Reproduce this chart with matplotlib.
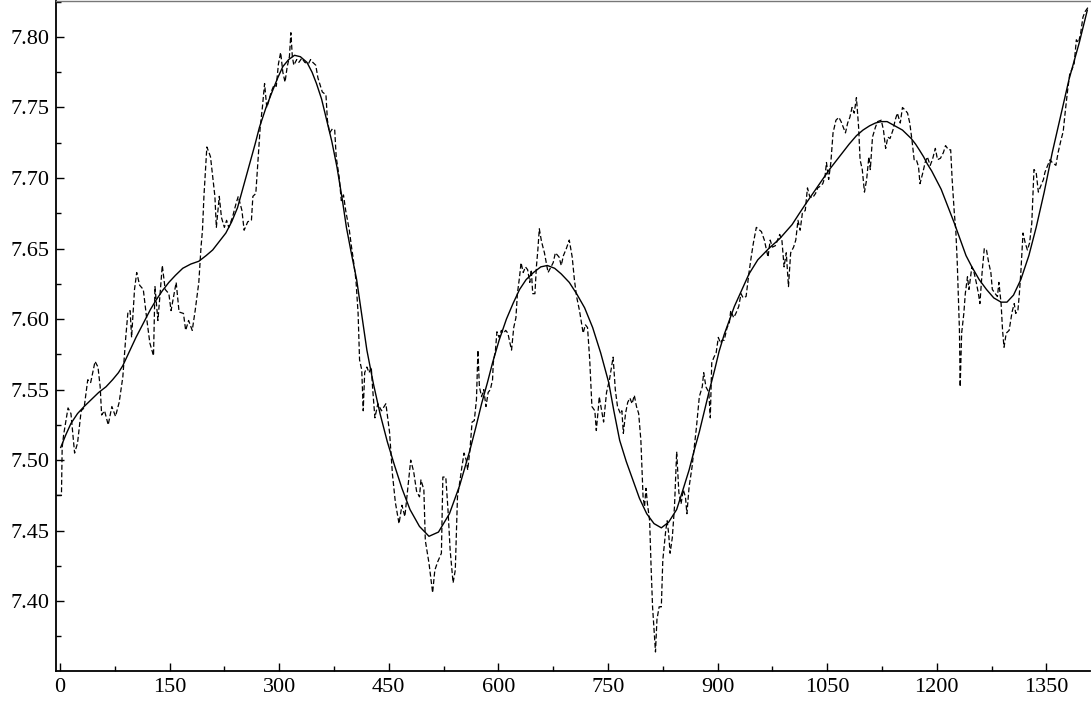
import matplotlib
matplotlib.use("Agg")
import matplotlib.pyplot as plt
from matplotlib.ticker import MultipleLocator, FormatStrFormatter

plt.rcParams['font.family'] = ['Liberation Serif', 'DejaVu Serif']

# raw series (dashed)
raw_x = [-4, 2, 3, 5, 11, 15, 20, 24, 29, 33, 38, 42, 48, 52, 55, 57, 61, 66, 71, 76,
         81, 86, 90, 93, 96, 98, 102, 105, 109, 114, 119, 123, 128, 130, 134, 137, 140, 144, 149, 152,
         159, 163, 169, 172, 176, 181, 185, 190, 193, 195, 197, 201, 204, 206, 209, 212, 214, 218, 221, 225,
         228, 231, 236, 241, 244, 249, 252, 257, 262, 264, 268, 271, 274, 277, 280, 283, 286, 289, 293, 296,
         299, 302, 305, 308, 311, 314, 316, 318, 320, 324, 327, 331, 335, 340, 343, 346, 350, 353, 356, 359,
         364, 366, 369, 373, 376, 378, 382, 385, 388, 391, 396, 399, 401, 405, 408, 410, 413, 415, 417, 420,
         423, 426, 428, 431, 435, 440, 446, 451, 455, 459, 464, 468, 472, 476, 480, 484, 488, 492, 494, 498,
         500, 505, 510, 513, 517, 522, 524, 528, 531, 534, 538, 541, 544, 547, 550, 553, 556, 558, 561, 564,
         567, 570, 572, 574, 577, 580, 583, 586, 589, 592, 593, 596, 598, 601, 604, 607, 610, 613, 615, 618,
         621, 624, 626, 629, 631, 634, 637, 640, 643, 645, 647, 650, 652, 654, 656, 659, 663, 668, 675, 678,
         683, 686, 689, 693, 697, 701, 704, 707, 711, 716, 719, 722, 725, 728, 732, 734, 737, 738, 744, 748,
         752, 757, 760, 763, 767, 769, 771, 774, 777, 780, 783, 786, 789, 792, 795, 798, 800, 802, 804, 807,
         809, 811, 814, 815, 817, 820, 823, 825, 829, 831, 833, 835, 838, 841, 844, 847, 850, 853, 856, 858,
         861, 865, 868, 871, 875, 879, 881, 884, 888, 890, 892, 895, 898, 901, 904, 906, 909, 913, 916, 918,
         922, 925, 929, 932, 935, 939, 943, 946, 949, 953, 960, 964, 969, 972, 975, 979, 985, 988, 991, 994,
         997, 1000, 1004, 1007, 1010, 1013, 1016, 1020, 1023, 1026, 1030, 1034, 1037, 1040, 1044, 1047, 1049, 1052, 1055, 1058,
         1062, 1066, 1069, 1072, 1075, 1078, 1081, 1084, 1087, 1090, 1093, 1095, 1098, 1101, 1104, 1107, 1109, 1112, 1116, 1119,
         1124, 1127, 1130, 1133, 1136, 1140, 1143, 1146, 1150, 1153, 1157, 1160, 1163, 1166, 1169, 1172, 1175, 1177, 1181, 1184,
         1187, 1191, 1194, 1198, 1201, 1205, 1209, 1212, 1216, 1219, 1221, 1224, 1226, 1228, 1231, 1232, 1234, 1237, 1239, 1242,
         1244, 1248, 1251, 1254, 1257, 1259, 1262, 1265, 1268, 1271, 1274, 1276, 1280, 1283, 1285, 1288, 1290, 1292, 1295, 1299,
         1303, 1306, 1308, 1311, 1313, 1315, 1318, 1321, 1324, 1327, 1330, 1333, 1336, 1339, 1342, 1346, 1348, 1351, 1355, 1358,
         1363, 1366, 1370, 1373, 1376, 1379, 1382, 1385, 1388, 1391, 1394, 1397, 1400, 1403, 1407, 1409]
raw_y = [7.475, 7.475, 7.509, 7.518, 7.537, 7.533, 7.505, 7.512, 7.535, 7.537, 7.557, 7.555, 7.570, 7.566, 7.552, 7.532, 7.535, 7.525, 7.538, 7.531,
         7.541, 7.559, 7.587, 7.605, 7.606, 7.587, 7.621, 7.633, 7.624, 7.621, 7.599, 7.583, 7.574, 7.623, 7.599, 7.618, 7.638, 7.621, 7.618, 7.606,
         7.626, 7.605, 7.604, 7.592, 7.599, 7.592, 7.606, 7.626, 7.651, 7.663, 7.687, 7.722, 7.718, 7.715, 7.701, 7.687, 7.665, 7.687, 7.672, 7.665,
         7.670, 7.665, 7.672, 7.682, 7.687, 7.677, 7.663, 7.669, 7.670, 7.687, 7.689, 7.713, 7.736, 7.750, 7.767, 7.750, 7.755, 7.761, 7.766, 7.765,
         7.781, 7.789, 7.775, 7.768, 7.779, 7.786, 7.803, 7.786, 7.780, 7.784, 7.782, 7.785, 7.782, 7.781, 7.784, 7.782, 7.780, 7.771, 7.766, 7.761,
         7.759, 7.741, 7.732, 7.735, 7.734, 7.715, 7.701, 7.684, 7.688, 7.677, 7.663, 7.651, 7.644, 7.628, 7.604, 7.571, 7.564, 7.535, 7.562, 7.566,
         7.562, 7.566, 7.550, 7.530, 7.540, 7.535, 7.540, 7.520, 7.490, 7.470, 7.455, 7.468, 7.460, 7.480, 7.500, 7.492, 7.478, 7.474, 7.486, 7.479,
         7.443, 7.427, 7.406, 7.422, 7.428, 7.434, 7.488, 7.488, 7.465, 7.436, 7.413, 7.422, 7.474, 7.484, 7.495, 7.505, 7.500, 7.493, 7.507, 7.527,
         7.528, 7.543, 7.578, 7.552, 7.545, 7.550, 7.538, 7.548, 7.550, 7.557, 7.569, 7.578, 7.591, 7.587, 7.592, 7.590, 7.592, 7.590, 7.585, 7.578,
         7.594, 7.601, 7.618, 7.630, 7.640, 7.633, 7.637, 7.635, 7.626, 7.635, 7.618, 7.618, 7.637, 7.649, 7.664, 7.655, 7.647, 7.633, 7.640, 7.647,
         7.644, 7.638, 7.645, 7.650, 7.656, 7.644, 7.628, 7.616, 7.606, 7.590, 7.596, 7.594, 7.571, 7.538, 7.535, 7.521, 7.538, 7.545, 7.527, 7.548,
         7.557, 7.573, 7.550, 7.538, 7.533, 7.535, 7.519, 7.533, 7.541, 7.544, 7.540, 7.546, 7.538, 7.533, 7.514, 7.474, 7.467, 7.480, 7.469, 7.457,
         7.424, 7.396, 7.372, 7.364, 7.387, 7.396, 7.396, 7.429, 7.450, 7.457, 7.448, 7.434, 7.445, 7.467, 7.506, 7.477, 7.469, 7.479, 7.474, 7.462,
         7.481, 7.495, 7.509, 7.523, 7.545, 7.552, 7.562, 7.552, 7.548, 7.530, 7.569, 7.573, 7.576, 7.587, 7.583, 7.585, 7.585, 7.594, 7.597, 7.606,
         7.601, 7.604, 7.609, 7.618, 7.615, 7.616, 7.633, 7.644, 7.654, 7.665, 7.662, 7.656, 7.644, 7.656, 7.651, 7.652, 7.660, 7.656, 7.637, 7.647,
         7.623, 7.647, 7.651, 7.656, 7.670, 7.663, 7.675, 7.677, 7.693, 7.687, 7.686, 7.689, 7.693, 7.694, 7.696, 7.701, 7.711, 7.699, 7.711, 7.732,
         7.741, 7.743, 7.740, 7.736, 7.732, 7.739, 7.743, 7.750, 7.746, 7.757, 7.736, 7.713, 7.706, 7.690, 7.699, 7.715, 7.706, 7.729, 7.736, 7.740,
         7.741, 7.734, 7.721, 7.729, 7.728, 7.734, 7.741, 7.746, 7.739, 7.750, 7.748, 7.746, 7.739, 7.727, 7.713, 7.713, 7.708, 7.696, 7.704, 7.711,
         7.715, 7.709, 7.713, 7.721, 7.713, 7.714, 7.718, 7.723, 7.720, 7.720, 7.699, 7.675, 7.663, 7.640, 7.592, 7.552, 7.590, 7.604, 7.618, 7.630,
         7.621, 7.637, 7.633, 7.626, 7.618, 7.611, 7.633, 7.650, 7.649, 7.640, 7.633, 7.621, 7.618, 7.616, 7.626, 7.611, 7.592, 7.580, 7.590, 7.592,
         7.605, 7.611, 7.604, 7.606, 7.618, 7.633, 7.661, 7.654, 7.649, 7.654, 7.668, 7.706, 7.704, 7.690, 7.694, 7.699, 7.704, 7.708, 7.713, 7.711,
         7.709, 7.718, 7.727, 7.733, 7.748, 7.762, 7.774, 7.777, 7.781, 7.798, 7.796, 7.803, 7.814, 7.818, 7.821, 7.821]

# smoothed trend (solid)
trend_x = [1, 8, 15, 24, 33, 43, 53, 63, 72, 80, 86, 95, 104, 111, 118, 124, 131, 140, 149, 158,
           168, 179, 190, 200, 209, 218, 227, 235, 243, 251, 260, 267, 273, 282, 291, 298, 305, 313, 321, 329,
           338, 345, 351, 358, 365, 372, 379, 386, 392, 399, 406, 413, 420, 429, 438, 448, 458, 468, 479, 492,
           505, 518, 533, 547, 561, 569, 577, 585, 592, 601, 611, 620, 629, 638, 648, 658, 667, 677, 686, 697,
           707, 718, 729, 740, 751, 758, 766, 775, 784, 793, 803, 813, 823, 833, 844, 852, 861, 868, 875, 882,
           889, 896, 902, 909, 916, 923, 930, 943, 955, 970, 985, 1002, 1012, 1021, 1029, 1037, 1045, 1053, 1062, 1071,
           1080, 1090, 1099, 1108, 1116, 1124, 1132, 1139, 1146, 1153, 1159, 1165, 1171, 1176, 1182, 1187, 1193, 1199, 1206, 1212,
           1218, 1224, 1233, 1240, 1248, 1258, 1268, 1278, 1288, 1296, 1305, 1315, 1326, 1336, 1347, 1358, 1370, 1381, 1395, 1406]
trend_y = [7.509, 7.518, 7.526, 7.533, 7.538, 7.543, 7.548, 7.552, 7.557, 7.562, 7.567, 7.577, 7.587, 7.594, 7.601, 7.607, 7.613, 7.620, 7.626, 7.631,
           7.636, 7.639, 7.641, 7.645, 7.649, 7.655, 7.661, 7.669, 7.679, 7.694, 7.711, 7.724, 7.736, 7.750, 7.762, 7.771, 7.779, 7.784, 7.787, 7.786,
           7.782, 7.775, 7.767, 7.756, 7.741, 7.726, 7.708, 7.686, 7.665, 7.646, 7.628, 7.603, 7.578, 7.554, 7.533, 7.513, 7.496, 7.480, 7.465, 7.453,
           7.446, 7.449, 7.462, 7.482, 7.507, 7.523, 7.540, 7.555, 7.569, 7.585, 7.600, 7.611, 7.621, 7.628, 7.633, 7.637, 7.638, 7.636, 7.632, 7.626,
           7.618, 7.608, 7.594, 7.576, 7.555, 7.535, 7.514, 7.499, 7.486, 7.473, 7.462, 7.455, 7.452, 7.456, 7.465, 7.478, 7.493, 7.507, 7.520, 7.535,
           7.550, 7.564, 7.577, 7.589, 7.599, 7.609, 7.617, 7.632, 7.642, 7.650, 7.657, 7.667, 7.675, 7.682, 7.688, 7.694, 7.700, 7.706, 7.712, 7.718,
           7.724, 7.730, 7.734, 7.737, 7.739, 7.740, 7.740, 7.738, 7.736, 7.734, 7.731, 7.728, 7.724, 7.720, 7.715, 7.710, 7.705, 7.699, 7.692, 7.684,
           7.676, 7.668, 7.655, 7.645, 7.637, 7.628, 7.621, 7.615, 7.612, 7.612, 7.617, 7.628, 7.645, 7.665, 7.690, 7.718, 7.745, 7.770, 7.796, 7.819]

fig = plt.figure(figsize=(10.91, 7.07), dpi=100)
ax = fig.add_axes([0.0513, 0.0509, 0.948, 0.9477])

ax.plot(raw_x, raw_y, color='black', lw=0.9, dashes=(4, 2))
ax.plot(trend_x, trend_y, color='black', lw=1.0)

ax.set_xlim(-5.5, 1410)
ax.set_ylim(7.3505, 7.8255)

ax.xaxis.set_major_locator(MultipleLocator(150))
ax.xaxis.set_minor_locator(MultipleLocator(75))
ax.yaxis.set_major_locator(MultipleLocator(0.05))
ax.yaxis.set_minor_locator(MultipleLocator(0.025))
ax.yaxis.set_major_formatter(FormatStrFormatter('%.2f'))

ax.tick_params(which='both', direction='in', top=False, right=False, labelsize=16, width=1)
ax.tick_params(which='major', length=6, pad=5)
ax.tick_params(which='minor', length=3.5)

ax.spines['left'].set_linewidth(1.3)
ax.spines['bottom'].set_linewidth(1.3)
ax.spines['top'].set_color('#777777')
ax.spines['top'].set_linewidth(1.0)
ax.spines['right'].set_visible(False)

fig.savefig('out.png', dpi=100)
